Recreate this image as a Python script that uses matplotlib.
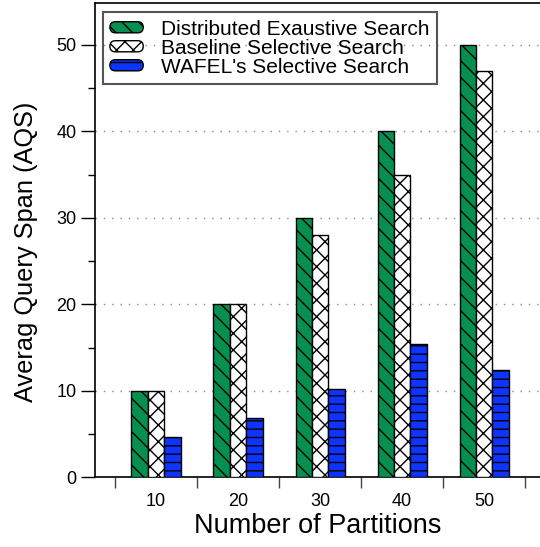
import matplotlib
matplotlib.use("Agg")
import matplotlib.pyplot as plt
from matplotlib.patches import FancyBboxPatch
from matplotlib.legend_handler import HandlerPatch
from matplotlib.container import BarContainer
from matplotlib.ticker import MultipleLocator, FixedLocator
import numpy as np

plt.rcParams['font.family'] = ['Liberation Sans', 'DejaVu Sans']
plt.rcParams['hatch.linewidth'] = 1.0

# Data
partitions = ['10', '20', '30', '40', '50']
exhaustive = [10, 20, 30, 40, 50]
baseline = [10, 20, 28, 35, 47]
wafel = [4.65, 6.8, 10.2, 15.4, 12.4]

series_names = ["Distributed Exaustive Search", "Baseline Selective Search",
                "WAFEL's Selective Search"]
series_colors = ['#05904f', '#ffffff', '#0d35ff']
series_hatches = ['\\\\', 'xx', '--']


def rounded_handle(legend, orig_handle, xdescent, ydescent, width, height, fontsize):
    h = height * 0.8
    y0 = -ydescent + (height - h) / 2
    return FancyBboxPatch((-xdescent, y0), width, h,
                          boxstyle=f"round,pad=0,rounding_size={h / 2}")


def copy_first_bar(tgt, orig):
    tgt.update_from(orig.patches[0])


fig = plt.figure(figsize=(5.4, 5.47), dpi=100)
ax = fig.add_axes([0.176, 0.1274, 0.824, 0.8666])

x = np.arange(len(partitions))
width = 0.2
for i, (vals, name) in enumerate(zip([exhaustive, baseline, wafel], series_names)):
    ax.bar(x + (i - 1) * width, vals, width, label=name,
           color=series_colors[i], edgecolor='black', linewidth=1.0,
           hatch=series_hatches[i], zorder=3)

ax.set_xlim(-0.744, 4.68)
ax.set_ylim(0, 54.8)

ax.set_xticks(x)
ax.set_xticklabels(partitions)
ax.xaxis.set_minor_locator(FixedLocator(np.arange(-0.5, 5, 1.0)))
ax.tick_params(axis='x', which='major', length=0, pad=11.5, labelsize=13)
ax.tick_params(axis='x', which='minor', length=8, width=1.0, color='#444444')

ax.yaxis.set_major_locator(MultipleLocator(10))
ax.yaxis.set_minor_locator(MultipleLocator(5))
ax.tick_params(axis='y', which='major', length=10, width=1.0, pad=3.5, labelsize=13)
ax.tick_params(axis='y', which='minor', length=5, width=1.0)

ax.yaxis.grid(True, linestyle=(0, (1, 5)), color='#888888', linewidth=1.0, zorder=0)
ax.set_axisbelow(True)

ax.spines['right'].set_visible(False)
for s in ['left', 'bottom', 'top']:
    ax.spines[s].set_linewidth(1.2)

ax.set_xlabel('Number of Partitions', fontsize=19.5, labelpad=2)
ax.set_ylabel('Averag Query Span (AQS)', fontsize=18.3)
ax.yaxis.set_label_coords(-0.128, 0.475)

leg = ax.legend(loc='upper left', bbox_to_anchor=(0.017, 0.981), borderaxespad=0,
                fontsize=15, frameon=True, fancybox=False, facecolor='none',
                edgecolor='#555555', labelspacing=0.0, handlelength=1.6,
                handleheight=0.65, handletextpad=0.85, borderpad=0.35,
                handler_map={BarContainer: HandlerPatch(patch_func=rounded_handle,
                                                        update_func=copy_first_bar)})
leg.get_frame().set_linewidth(1.5)
leg.get_frame().set_alpha(None)

fig.savefig('out.png', dpi=100)
